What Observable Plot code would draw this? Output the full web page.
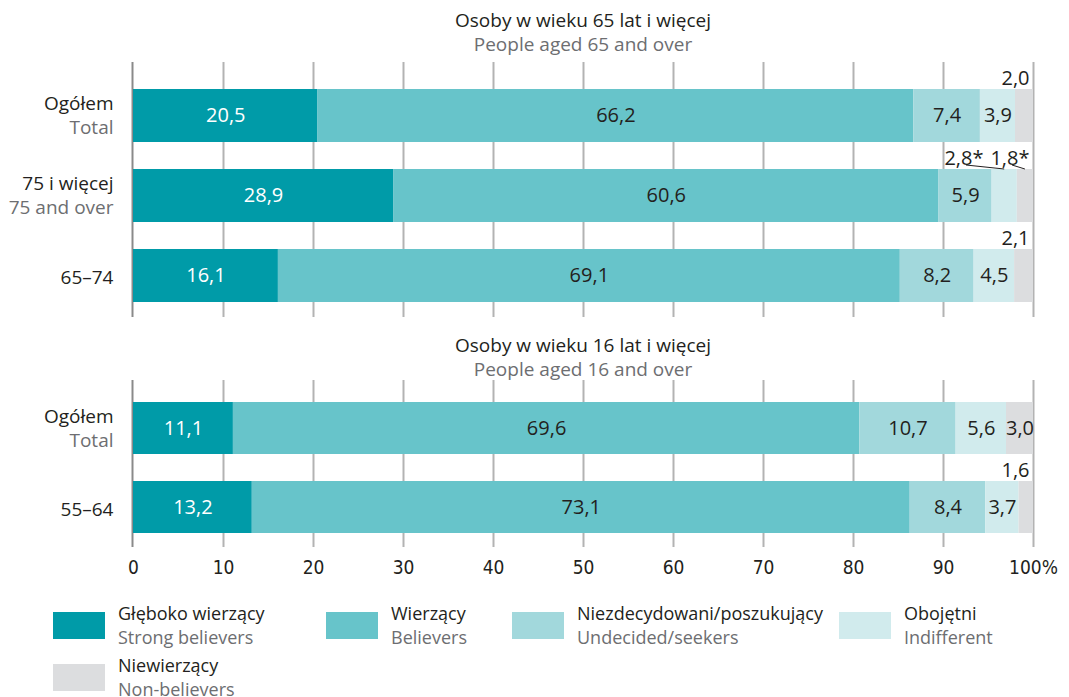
<!DOCTYPE html>
<html>
<head>
<meta charset="utf-8">
<script src="https://cdn.jsdelivr.net/npm/d3@7"></script>
<script src="https://cdn.jsdelivr.net/npm/@observablehq/plot@0.6"></script>
<style>
  body { margin: 0; background: #fff; font-family: "Open Sans", sans-serif; color: #231f20; }
  #chart { width: 1069px; position: relative; }
  .ptitle { box-sizing: border-box; width: 1069px; padding-left: 133px; padding-right: 36px; text-align: center; font-size: 19px; }
  .ptitle div { white-space: nowrap; }
  .l1 { color: #231f20; }
  .l2 { color: #6d6e71; }
  #t1 { padding-top: 8px; line-height: 24px; height: 56px; box-sizing: border-box; }
  #t2 { padding-top: 16px; line-height: 24px; height: 62px; box-sizing: border-box; }
  svg { display: block; overflow: visible; }
  #p2 g[aria-label^="x-axis"] text { font-family: "DejaVu Sans Condensed", "DejaVu Sans", sans-serif; font-stretch: condensed; font-size: 19px; fill: #231f20; }
  #legend { box-sizing: border-box; padding-top: 14px; padding-left: 53px; display: grid; grid-template-columns: 273px 186px 327px auto; grid-auto-rows: 52px; font-size: 18px; }
  .item { display: flex; align-items: flex-start; }
  .sw { width: 52px; height: 27px; margin-top: 11px; margin-right: 13px; flex: none; }
  .txt { line-height: 24px; white-space: nowrap; }
</style>
</head>
<body>
<div id="chart">
  <div id="t1" class="ptitle"></div>
  <div id="p1"></div>
  <div id="t2" class="ptitle"></div>
  <div id="p2"></div>
  <div id="legend"></div>
</div>
<script>
// ---- data ----
const categories = ["Głęboko wierzący", "Wierzący", "Niezdecydowani/poszukujący", "Obojętni", "Niewierzący"];
const categoriesEn = ["Strong believers", "Believers", "Undecided/seekers", "Indifferent", "Non-believers"];

const panel1Title = ["Osoby w wieku 65 lat i więcej", "People aged 65 and over"];
const panel1Rows = ["Ogółem", "75 i więcej", "65–74"];
const panel1RowsEn = ["Total", "75 and over", ""];
const panel1Values = [
  [20.5, 66.2, 7.4, 3.9, 2.0],
  [28.9, 60.6, 5.9, 2.8, 1.8],
  [16.1, 69.1, 8.2, 4.5, 2.1]
];
const panel1Notes = [
  ["", "", "", "", ""],
  ["", "", "", "*", "*"],
  ["", "", "", "", ""]
];

const panel2Title = ["Osoby w wieku 16 lat i więcej", "People aged 16 and over"];
const panel2Rows = ["Ogółem ", "55–64"];
const panel2RowsEn = ["Total", ""];
const panel2Values = [
  [11.1, 69.6, 10.7, 5.6, 3.0],
  [13.2, 73.1, 8.4, 3.7, 1.6]
];
const panel2Notes = [
  ["", "", "", "", ""],
  ["", "", "", "", ""]
];

const xTicks = [0, 10, 20, 30, 40, 50, 60, 70, 80, 90, 100];
const xTickLabels = ["0", "10", "20", "30", "40", "50", "60", "70", "80", "90", "100%"];

// ---- styles ----
const palette = ["#009ba8", "#67c4ca", "#a2d8dc", "#d1ebed", "#dcdddf"];
const darkText = "#231f20";
const greyText = "#6d6e71";
const fmt = v => v.toFixed(1).replace(".", ",");

function panel(rows, rowsEn, values, notes, cfg) {
  const data = [];
  const above = [];
  const leaders = [];
  rows.forEach((r, i) => {
    let cum = 0;
    const total = d3.sum(values[i]);
    const small = [];
    values[i].forEach((v, j) => {
      const d = {row: r, en: rowsEn[i], cat: categories[j], idx: j, value: v, label: fmt(v) + notes[i][j], mid: cum + v / 2};
      data.push(d);
      if (v < 3) small.push(d);
      cum += v;
    });
    small.reverse().forEach((d, k) => {
      above.push({row: r, total, k, label: d.label});
      if (small.length > 1) leaders.push({row: r, total, k, mid: d.mid});
    });
  });
  const rowLabels = rows.map((r, i) => ({row: r, main: r.trim(), en: rowsEn[i]}));
  const aboveDx = k => -4 - 46 * k;

  const leaderMark = (index, scales) => {
    const x = scales.x, y = scales.y;
    const g = d3.create("svg:g").attr("aria-label", "leaders");
    const bw = y.bandwidth ? y.bandwidth() : 0;
    for (const d of leaders) {
      const yc = y(d.row) + bw / 2;
      const xr = x(d.total) + aboveDx(d.k);
      g.append("line")
        .attr("x1", xr - 17).attr("y1", yc - 30.5)
        .attr("x2", x(d.mid)).attr("y2", yc - bw / 2)
        .attr("stroke", "#231f20").attr("stroke-width", 1);
    }
    return g.node();
  };

  return Plot.plot({
    width: 1069,
    height: cfg.height,
    marginLeft: 133,
    marginRight: 36,
    marginTop: cfg.marginTop,
    marginBottom: cfg.marginBottom,
    style: {fontFamily: "Open Sans, sans-serif", fontSize: "19px", background: "white", overflow: "visible"},
    x: cfg.axis
      ? {domain: [0, 100], ticks: xTicks, tickFormat: d => xTickLabels[xTicks.indexOf(d)], tickSize: 0, tickPadding: 13, label: null}
      : {domain: [0, 100], axis: null},
    y: {domain: rows, axis: null, paddingInner: 0.34, paddingOuter: 0.17, insetTop: cfg.insetTop, insetBottom: cfg.insetBottom},
    color: {domain: categories, range: palette},
    marks: [
      Plot.ruleX(xTicks.slice(1), {stroke: "#b3b3b3", strokeWidth: 2}),
      Plot.ruleX([0], {stroke: "#8a8a8a", strokeWidth: 2, dx: -1}),
      Plot.barX(data, {x: "value", y: "row", fill: "cat"}),
      Plot.text(data, Plot.stackX({x: "value", y: "row", text: d => (d.idx === 0 && d.value >= 3) ? d.label : null, fill: "white", fontSize: 20})),
      Plot.text(data, Plot.stackX({x: "value", y: "row", text: d => (d.idx > 0 && d.value >= 3) ? d.label : null, fill: darkText, fontSize: 20})),
      Plot.text(above.filter(d => d.k === 0), {x: "total", y: "row", text: "label", textAnchor: "end", dx: aboveDx(0), dy: -37, fill: darkText, fontSize: 20}),
      Plot.text(above.filter(d => d.k === 1), {x: "total", y: "row", text: "label", textAnchor: "end", dx: aboveDx(1), dy: -37, fill: darkText, fontSize: 20}),
      leaderMark,
      Plot.text(rowLabels.filter(d => d.en), {x: () => 0, y: "row", text: "main", textAnchor: "end", dx: -20, dy: -12, fill: darkText, fontSize: 19}),
      Plot.text(rowLabels.filter(d => d.en), {x: () => 0, y: "row", text: "en", textAnchor: "end", dx: -20, dy: 12, fill: greyText, fontSize: 19}),
      Plot.text(rowLabels.filter(d => !d.en), {x: () => 0, y: "row", text: "main", textAnchor: "end", dx: -20, dy: 2, fill: darkText, fontSize: 19})
    ]
  });
}

function title(el, lines) {
  el.innerHTML = `<div class="l1">${lines[0]}</div><div class="l2">${lines[1]}</div>`;
}

title(document.getElementById("t1"), panel1Title);
title(document.getElementById("t2"), panel2Title);

document.getElementById("p1").append(panel(panel1Rows, panel1RowsEn, panel1Values, panel1Notes,
  {height: 261, marginTop: 6, marginBottom: 0, insetTop: 12.25, insetBottom: 1.25, axis: false}));
document.getElementById("p2").append(panel(panel2Rows, panel2RowsEn, panel2Values, panel2Notes,
  {height: 208, marginTop: 1, marginBottom: 40, insetTop: 7.5, insetBottom: 0, axis: true}));

const legend = document.getElementById("legend");
categories.forEach((c, i) => {
  const item = document.createElement("div");
  item.className = "item";
  item.innerHTML = `<div class="sw" style="background:${palette[i]}"></div><div class="txt"><div class="l1">${c}</div><div class="l2">${categoriesEn[i]}</div></div>`;
  legend.append(item);
});
</script>
</body>
</html>
